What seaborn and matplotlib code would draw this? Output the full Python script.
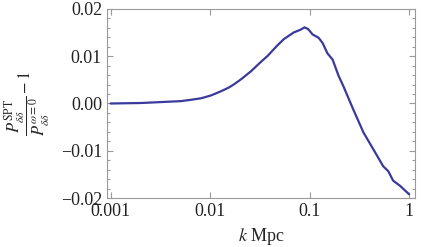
import numpy as np
import pandas as pd
import matplotlib
matplotlib.use("Agg")
import matplotlib.pyplot as plt
import matplotlib.ticker as mticker
import seaborn as sns

# values
k = [0.001, 0.002, 0.0032, 0.0051, 0.0065, 0.0081, 0.0102, 0.0129, 0.0155, 0.0175,
     0.0204, 0.0257, 0.0324, 0.038, 0.047, 0.055, 0.069, 0.081, 0.089, 0.097,
     0.107, 0.123, 0.135, 0.151, 0.17, 0.195, 0.219, 0.275, 0.347, 0.437,
     0.55, 0.617, 0.69, 0.81, 1.0]
ratio = [0.0, 0.0001, 0.0003, 0.0005, 0.0008, 0.0011, 0.0017, 0.0026, 0.0034, 0.0041,
         0.0051, 0.0068, 0.0088, 0.0101, 0.0122, 0.0136, 0.0150, 0.0156, 0.0161, 0.0157,
         0.0146, 0.0139, 0.0128, 0.0106, 0.0093, 0.0059, 0.0036, -0.0013, -0.0061, -0.0097,
         -0.0133, -0.0143, -0.0163, -0.0174, -0.0192]

df = pd.DataFrame({"k": k, "ratio": ratio})

sns.set_style("ticks")
plt.rcParams["font.family"] = ["Liberation Serif", "STIXGeneral", "DejaVu Serif"]
plt.rcParams["mathtext.fontset"] = "stix"

fig = plt.figure(figsize=(4.21, 2.47), dpi=100)
ax = fig.add_axes([0.254, 0.198, 0.732, 0.766])

sns.lineplot(data=df, x="k", y="ratio", ax=ax, color="#3a3a9c", linewidth=1.6)

ax.set_xscale("log")
ax.set_xlim(10 ** -3.037, 10 ** 0.06)
ax.set_ylim(-0.02, 0.02)
ax.set_xticks([0.001, 0.01, 0.1, 1])
ax.set_xticklabels(["0.001", "0.01", "0.1", "1"])
ax.xaxis.set_minor_locator(mticker.NullLocator())
ax.set_yticks([-0.02, -0.01, 0.0, 0.01, 0.02])
ax.set_yticklabels(["\u22120.02", "\u22120.01", "0.00", "0.01", "0.02"])
ax.yaxis.set_minor_locator(mticker.MultipleLocator(0.002))

for s in ax.spines.values():
    s.set_color("#9a9a9a")
    s.set_linewidth(0.8)
ax.tick_params(which="both", direction="in", top=True, right=True,
               color="#9a9a9a", width=0.8, labelsize=13, labelcolor="#222222")
ax.tick_params(which="major", length=4)
ax.tick_params(which="minor", length=2)

ax.set_xlabel("$k$ Mpc", fontsize=13, labelpad=4)
ax.set_ylabel(r"$\dfrac{P_{\delta\delta}^{\rm SPT}}{P_{\delta\delta}^{\omega=0}}-1$",
              fontsize=12, labelpad=6)

fig.savefig("out.png", dpi=100)
